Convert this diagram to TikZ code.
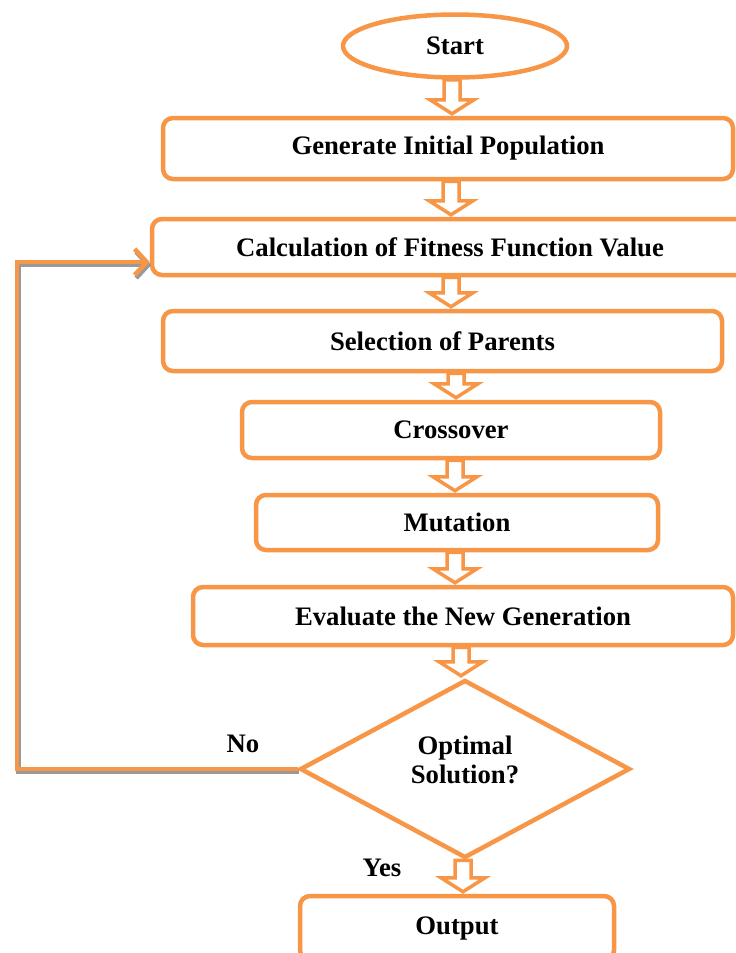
\documentclass[tikz,border=0pt]{standalone}
\usepackage{fontspec}
\setmainfont{Liberation Serif}
\usetikzlibrary{shapes.geometric,arrows.meta,calc}

\definecolor{gaorange}{HTML}{F79646}

\tikzset{
	box/.style={draw=gaorange, line width=4.5pt, rounded corners=10pt, inner sep=0pt},
	stepfont/.style={font=\fontsize{26.7}{29}\selectfont\bfseries},
	blockarrow/.style={draw=gaorange, fill=white, line width=3.5pt, line join=miter},
	loopline/.style={draw=gaorange, line width=4.5pt, -{Straight Barb[length=12pt,width=26pt]}},
	loopshadow/.style={draw=gray!80, line width=4.5pt, -{Straight Barb[length=12pt,width=26pt]}}
}

% hollow block arrow between two nodes, #3 = x position of the arrow
\newcommand{\hollowarrow}[3]{%
	\draw[blockarrow] let \p1=(#1.south), \p2=(#2.north) in
		({#3-8},{\y1}) -- ({#3+8},{\y1}) -- ({#3+8},{\y2+16pt}) -- ({#3+22},{\y2+16pt})
		-- ({#3},{\y2+2pt}) -- ({#3-22},{\y2+16pt}) -- ({#3-8},{\y2+16pt}) -- cycle;
}

\begin{document}
\begin{tikzpicture}[x=1pt, y=1pt, stepfont]
	
	\useasboundingbox (0,0) rectangle (736,-953);
	
	% Define the steps of the algorithm
	\node[box, ellipse, rounded corners=0pt, minimum width=224pt, minimum height=63pt] (start) at (455,-46) {Start};
	\node[box, minimum width=570pt, minimum height=61pt] (gen) at (448,-148.5) {Generate Initial Population};
	\node[box, minimum width=596pt, minimum height=56pt] (calc) at (450,-247) {Calculation of Fitness Function Value};
	\node[box, minimum width=559pt, minimum height=60pt] (sel) at (442.5,-341) {Selection of Parents};
	\node[box, minimum width=418pt, minimum height=56pt] (cross) at (451,-430) {Crossover};
	\node[box, minimum width=402pt, minimum height=55pt] (mut) at (457,-522.5) {Mutation};
	\node[box, minimum width=540pt, minimum height=58pt] (eval) at (463,-616) {Evaluate the New Generation};
	\node[box, diamond, rounded corners=0pt, aspect=1.85, minimum width=330pt, minimum height=178pt,
		label={[stepfont, align=center, yshift=9pt]center:{Optimal\\Solution?}}] (dec) at (465,-769) {};
	\node[box, minimum width=314pt, minimum height=64pt] (out) at (457,-928) {Output};
	
	% Hollow arrows from step to step
	\hollowarrow{start}{gen}{452}
	\hollowarrow{gen}{calc}{451}
	\hollowarrow{calc}{sel}{451}
	\hollowarrow{sel}{cross}{456}
	\hollowarrow{cross}{mut}{455}
	\hollowarrow{mut}{eval}{455}
	\hollowarrow{eval}{dec}{461}
	\hollowarrow{dec}{out}{463}
	
	% Loop back when the solution is not optimal
	\coordinate (back) at (17,-262);
	\draw[loopshadow, transform canvas={shift={(1.5pt,-3pt)}}] (dec.west) -| (back) -- (back -| calc.west);
	\draw[loopline] (dec.west) -| (back) -- (back -| calc.west);
	
	% Label the branches
	\node (no) at (243,-744) {No};
	\node (yes) at (382,-868) {Yes};
	
\end{tikzpicture}
\end{document}
